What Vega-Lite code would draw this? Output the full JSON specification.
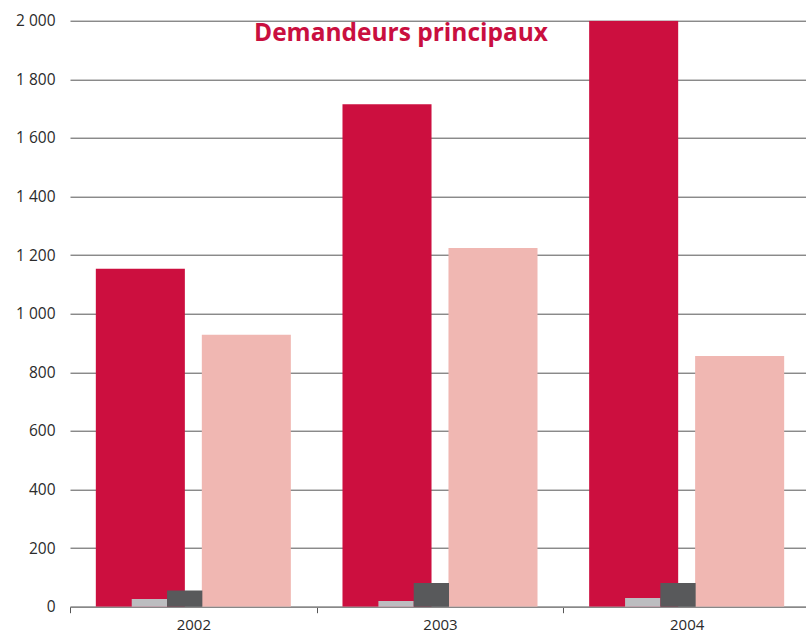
{
  "$schema": "https://vega.github.io/schema/vega-lite/v6.json",
  "width": 740,
  "height": 586,
  "autosize": "none",
  "padding": {"left": 70, "top": 20.7, "right": 0, "bottom": 31},
  "background": "white",
  "title": {
    "text": "Demandeurs principaux",
    "font": "Open Sans",
    "fontSize": 24.5,
    "fontWeight": "bold",
    "color": "#C90F3F",
    "anchor": "start",
    "frame": "group",
    "dx": 184,
    "offset": 0,
    "dy": 33
  },
  "config": {
    "view": {"stroke": null},
    "axis": {"labelFont": "Open Sans", "labelFontSize": 15, "labelColor": "#2b2b2b"}
  },
  "data": {
    "values": [
      {"annee": "2002", "serie": "Série 1", "groupe": "grand", "valeur": 1153},
      {"annee": "2002", "serie": "Série 2", "groupe": "petit", "valeur": 26},
      {"annee": "2002", "serie": "Série 3", "groupe": "petit", "valeur": 55},
      {"annee": "2002", "serie": "Série 4", "groupe": "grand", "valeur": 928},
      {"annee": "2003", "serie": "Série 1", "groupe": "grand", "valeur": 1715},
      {"annee": "2003", "serie": "Série 2", "groupe": "petit", "valeur": 19},
      {"annee": "2003", "serie": "Série 3", "groupe": "petit", "valeur": 81},
      {"annee": "2003", "serie": "Série 4", "groupe": "grand", "valeur": 1224},
      {"annee": "2004", "serie": "Série 1", "groupe": "grand", "valeur": 2000},
      {"annee": "2004", "serie": "Série 2", "groupe": "petit", "valeur": 30},
      {"annee": "2004", "serie": "Série 3", "groupe": "petit", "valeur": 81},
      {"annee": "2004", "serie": "Série 4", "groupe": "grand", "valeur": 856}
    ]
  },
  "encoding": {
    "x": {
      "field": "annee",
      "type": "nominal",
      "scale": {"paddingInner": 0, "paddingOuter": 0},
      "axis": {
        "title": null,
        "labelAngle": 0,
        "tickBand": "extent",
        "tickSize": 6,
        "tickColor": "#555",
        "domainColor": "#888",
        "domainWidth": 1.5,
        "labelPadding": 5,
        "grid": false
      }
    },
    "y": {
      "field": "valeur",
      "type": "quantitative",
      "scale": {"domain": [0, 2000], "nice": false},
      "axis": {
        "title": null,
        "values": [0, 200, 400, 600, 800, 1000, 1200, 1400, 1600, 1800, 2000],
        "labelExpr": "replace(format(datum.value, ','), ',', ' ')",
        "labelOverlap": false,
        "labelFontSize": 15.5,
        "domain": false,
        "ticks": false,
        "labelPadding": 15,
        "grid": true,
        "gridColor": "#555",
        "gridWidth": 1
      }
    },
    "color": {
      "field": "serie",
      "type": "nominal",
      "scale": {
        "domain": ["Série 1", "Série 2", "Série 3", "Série 4"],
        "range": ["#CC0F3F", "#BCBDC0", "#58595B", "#F0B7B2"]
      },
      "legend": null
    }
  },
  "layer": [
    {
      "transform": [{"filter": "datum.groupe == 'grand'"}],
      "mark": {"type": "bar", "clip": true},
      "encoding": {
        "xOffset": {
          "field": "serie",
          "type": "nominal",
          "scale": {"domain": ["Série 1", "Série 4"], "paddingInner": 0.16, "paddingOuter": 0.2436}
        }
      }
    },
    {
      "transform": [{"filter": "datum.groupe == 'petit'"}],
      "mark": {"type": "bar"},
      "encoding": {
        "xOffset": {
          "field": "serie",
          "type": "nominal",
          "scale": {"domain": ["_a", "Série 2", "Série 3", "_b", "_c", "_d"], "paddingInner": 0, "paddingOuter": 0.493, "align": 0.759}
        }
      }
    }
  ],
  "resolve": {"scale": {"xOffset": "independent"}}
}
